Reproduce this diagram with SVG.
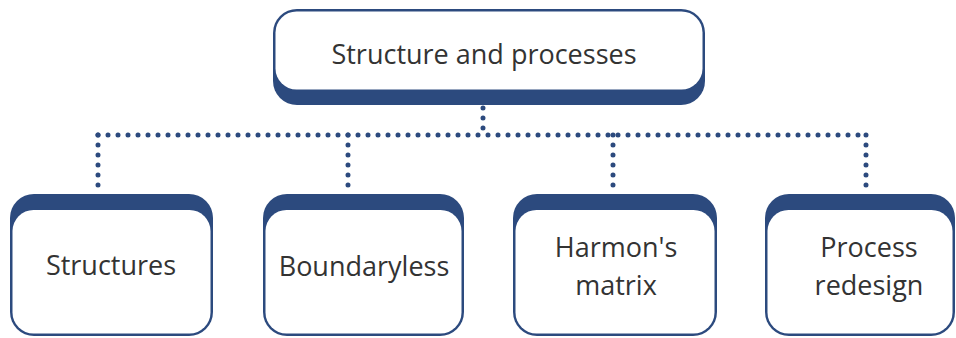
<svg xmlns="http://www.w3.org/2000/svg" width="956" height="338" viewBox="0 0 956 338">
  <style>
    .frame { fill: #2c4a7e; }
    .face { fill: #ffffff; }
    .label { font-family: "Open Sans", "Noto Sans", "Liberation Sans", sans-serif; font-size: 27px; fill: #333333; text-anchor: middle; }
    .dots { fill: none; stroke: #2c4a7e; stroke-width: 5; stroke-linecap: round; stroke-dasharray: 0 10; }
  </style>
  <rect width="956" height="338" fill="#ffffff"/>

  <!-- connectors -->
  <g id="connectors">
    <path class="dots" d="M483 108 V135"/>
    <path class="dots" d="M98 135 H866"/>
    <path class="dots" d="M98 135 V190"/>
    <path class="dots" d="M348 135 V190"/>
    <path class="dots" d="M613 135 V190"/>
    <path class="dots" d="M866 135 V190"/>
  </g>

  <!-- root node: heavy band at the bottom -->
  <g id="node-root">
    <rect class="frame" x="273" y="9" width="432" height="96" rx="24"/>
    <rect class="face" x="275.5" y="11.5" width="427" height="78" rx="21"/>
    <text class="label" x="484" y="64">Structure and processes</text>
  </g>

  <!-- child nodes: heavy band at the top -->
  <g id="node-structures">
    <rect class="frame" x="10" y="194" width="203" height="142" rx="24"/>
    <rect class="face" x="12.5" y="210" width="198" height="123.5" rx="21"/>
    <text class="label" x="111" y="275">Structures</text>
  </g>

  <g id="node-boundaryless">
    <rect class="frame" x="263" y="194" width="201" height="142" rx="24"/>
    <rect class="face" x="265.5" y="210" width="196" height="123.5" rx="21"/>
    <text class="label" x="364" y="276">Boundaryless</text>
  </g>

  <g id="node-harmon">
    <rect class="frame" x="513" y="194" width="204" height="142" rx="24"/>
    <rect class="face" x="515.5" y="210" width="199" height="123.5" rx="21"/>
    <text class="label" x="616" y="257">Harmon's</text>
    <text class="label" x="616" y="295">matrix</text>
  </g>

  <g id="node-redesign">
    <rect class="frame" x="765" y="194" width="190" height="142" rx="24"/>
    <rect class="face" x="767.5" y="210" width="185" height="123.5" rx="21"/>
    <text class="label" x="869" y="257">Process</text>
    <text class="label" x="869" y="295">redesign</text>
  </g>
</svg>
